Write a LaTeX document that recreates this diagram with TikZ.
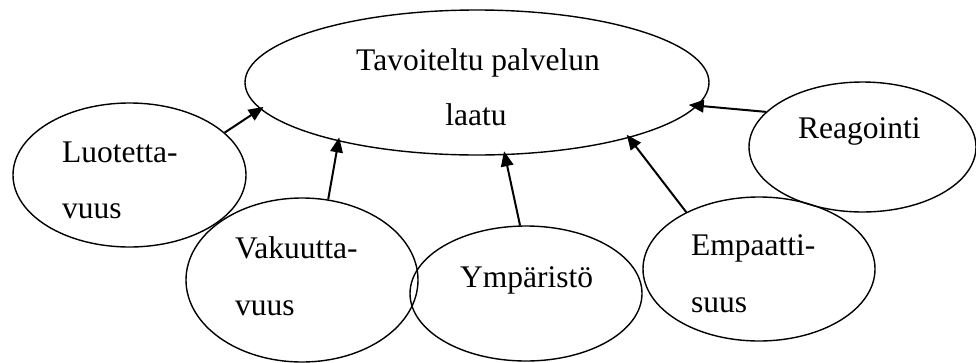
\documentclass[tikz,border=0pt]{standalone}
\usepackage{fontspec}
\setmainfont{Liberation Serif}
\usetikzlibrary{shapes.geometric,arrows.meta}
\begin{document}
\begin{tikzpicture}[x=1pt,y=1pt,
  oval/.style={draw=black,line width=1.4pt,ellipse,inner sep=0pt},
  lbl/.style={inner sep=0pt,anchor=base west,font=\fontsize{31.5}{31.5}\selectfont},
  clbl/.style={inner sep=0pt,anchor=base,font=\fontsize{31.5}{31.5}\selectfont},
  conn/.style={line width=2pt,-{Triangle[length=15pt,width=12.5pt]},shorten >=-4pt}]
\useasboundingbox (0,0) rectangle (976,-362);
\node[oval,minimum width=464pt,minimum height=145pt] (big) at (477,-82.5) {};
\node[oval,minimum width=233pt,minimum height=144pt] (luo) at (129.5,-175) {};
\node[oval,minimum width=232pt,minimum height=164pt] (vak) at (302,-280) {};
\node[oval,minimum width=232pt,minimum height=135pt] (ymp) at (526,-293.5) {};
\node[oval,minimum width=232pt,minimum height=144pt] (emp) at (759,-269) {};
\node[oval,minimum width=227pt,minimum height=130pt] (rea) at (862.5,-147) {};
\node[clbl] (t1) at (478,-70) {Tavoiteltu palvelun};
\node[clbl] (t2) at (476,-125) {laatu};
\node[lbl] (l1) at (62,-162) {Luotetta-};
\node[lbl] (l2) at (62,-218) {vuus};
\node[lbl] (v1) at (235,-258) {Vakuutta-};
\node[lbl] (v2) at (235,-315) {vuus};
\node[lbl] (y1) at (460,-287) {Ympäristö};
\node[lbl] (e1) at (691,-255) {Empaatti-};
\node[lbl] (e2) at (691,-312) {suus};
\node[lbl] (r1) at (798,-138) {Reagointi};
\draw[conn] (luo.24.2) -- (big.187);
\draw[conn] (vak.72.4) -- (big.203.1);
\draw[conn] (ymp.95.2) -- (big.291.3);
\draw[conn] (emp.142.8) -- (big.340.6);
\draw[conn,shorten >=-9pt] (rea.160.1) -- (big.354);
\end{tikzpicture}
\end{document}
